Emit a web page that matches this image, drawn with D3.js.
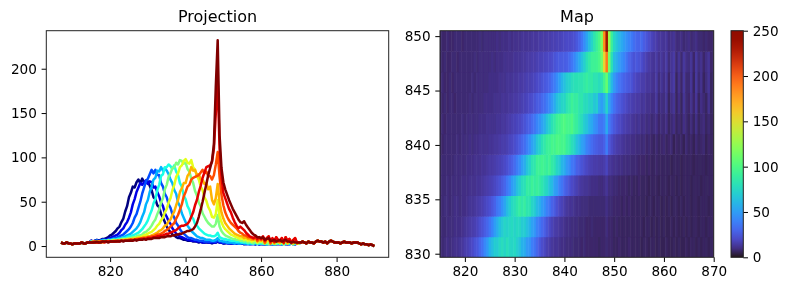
<!DOCTYPE html>
<html>
<head>
<meta charset="utf-8">
<script src="https://cdn.jsdelivr.net/npm/d3@7"></script>
<style>
  body { margin: 0; background: #fff; }
  svg { filter: blur(0.35px); }
  text { font-family: "DejaVu Sans", sans-serif; fill: #000; }
  .tick text { font-size: 13.6px; }
  .title { font-size: 16px; text-anchor: middle; }
</style>
</head>
<body>
<svg id="chart" width="789" height="291"></svg>
<script>
// row positions (one spectrum per row) and axis ticks
const rowLabels = [830, 832, 834, 836, 838, 840, 842, 844, 846, 848, 850];
const projXTicks = [820, 840, 860, 880];
const projYTicks = [0, 50, 100, 150, 200];
const mapXTicks = [820, 830, 840, 850, 860, 870];
const mapYTicks = [830, 835, 840, 845, 850];
const barTicks = [0, 50, 100, 150, 200, 250];

// wavelength 807 .. 814.5 and 870.5 .. 890, same for all the spectra
const tailLeft = [4,3,3,4,3,3,2,3,3,3,3,4,3,3,4,4];
const tailRight = [4,5,4,3,5,4,4,3,5,6,5,5,4,5,3,5,6,5,4,4,4,3,4,5,4,4,4,3,4,4,4,3,2,3,2,2,1,2,1,0];

// spectra, wavelength 815 .. 870 by 0.5, 10 values a line
const s0 = [6,5,6,7,6,7,8,8,9,10,
  12,13,15,17,20,22,27,31,39,45,
  55,60,67,66,72,75,71,76,72,71,
  73,68,63,55,53,46,44,36,32,27,
  22,18,16,13,12,10,9,9,8,7,
  7,6,6,6,5,5,5,4,5,4,
  4,4,4,4,3,4,4,5,4,4,
  3,3,4,3,3,3,4,3,3,3,
  3,2,3,3,2,3,3,2,3,2,
  2,3,2,2,3,2,3,2,2,3,
  2,3,3,2,3,2,3,3,2,3,
  3];
const s1 = [6,5,5,6,6,6,7,7,7,8,
  9,10,11,12,13,15,18,20,24,27,
  32,38,47,53,61,66,71,69,72,74,
  70,73,72,66,67,61,56,49,45,37,
  33,28,25,20,17,14,12,11,10,9,
  8,7,7,6,6,6,5,5,5,4,
  4,5,4,4,4,4,4,6,4,4,
  3,4,3,3,3,3,3,3,3,3,
  3,3,2,3,3,2,3,2,3,2,
  3,2,2,3,2,3,2,2,3,2,
  3,2,3,3,2,3,3,2,3,3,
  3];
const s2 = [5,5,6,6,5,6,7,7,6,7,
  7,8,9,9,10,11,12,13,15,17,
  19,22,26,32,36,43,50,59,66,73,
  76,81,86,82,86,80,80,71,67,59,
  55,47,43,36,32,26,23,19,16,14,
  12,10,9,9,8,7,7,6,6,6,
  5,5,5,5,5,5,5,7,5,5,
  4,4,4,3,4,3,4,3,3,3,
  3,3,3,2,3,3,2,3,3,2,
  3,2,3,2,3,3,2,3,2,3,
  3,2,3,3,2,3,3,3,2,3,
  3];
const s3 = [5,5,5,6,5,6,6,6,6,7,
  7,7,8,8,8,9,9,10,11,12,
  13,14,16,18,20,23,27,33,38,47,
  52,61,67,75,77,85,84,89,85,88,
  85,81,75,71,63,59,49,45,37,32,
  27,23,20,17,15,13,11,10,9,9,
  8,7,7,7,6,6,7,9,6,6,
  5,5,4,4,4,4,3,4,3,3,
  4,3,3,3,2,3,3,3,2,3,
  3,3,2,3,3,2,3,2,3,3,
  3,2,3,3,3,2,3,3,3,3,
  3];
const s4 = [5,5,5,5,5,5,6,6,6,6,
  6,7,7,7,8,8,8,9,9,10,
  11,11,12,13,14,15,17,19,22,25,
  29,35,40,48,53,63,69,79,81,89,
  89,92,90,87,91,84,80,71,67,57,
  53,45,41,33,31,25,23,20,18,16,
  14,13,12,12,11,11,12,15,10,9,
  8,8,7,7,6,6,6,5,5,5,
  4,4,4,3,4,3,3,4,3,3,
  3,3,3,2,3,3,3,2,3,3,
  3,3,2,3,3,3,3,2,3,3,
  3];
const s5 = [5,4,5,5,5,5,5,6,5,6,
  6,6,7,6,7,7,8,8,8,8,
  9,9,10,10,11,12,12,13,15,16,
  18,20,23,27,30,36,41,49,54,64,
  69,78,82,88,89,94,92,97,96,93,
  94,87,84,76,71,62,57,49,45,37,
  33,29,26,24,22,22,25,35,22,17,
  14,12,11,10,9,8,8,7,7,6,
  6,5,6,4,5,4,3,5,3,4,
  5,3,4,5,2,4,3,4,2,5,
  3,4,2,5,3,4,5,2,4,3,
  3];
const s6 = [4,5,4,5,5,5,5,5,5,6,
  5,6,6,6,6,6,7,7,7,8,
  8,8,8,9,9,10,10,11,12,13,
  14,15,16,18,20,23,25,29,32,38,
  42,49,54,63,69,78,82,89,91,96,
  98,94,93,97,89,86,79,75,67,63,
  55,51,44,40,33,32,36,52,34,27,
  22,19,17,15,13,12,11,10,9,8,
  9,7,8,6,7,5,6,7,4,6,
  5,7,3,5,7,3,5,3,7,5,
  3,6,3,7,3,5,6,3,5,3,
  3];
const s7 = [4,4,5,4,5,5,4,5,5,5,
  5,5,6,5,6,6,6,6,7,7,
  7,7,8,8,8,9,9,9,10,10,
  11,11,12,13,14,15,17,18,20,23,
  24,28,30,35,39,46,52,61,65,71,
  71,79,82,89,85,86,80,81,75,75,
  70,71,64,67,52,47,54,70,50,38,
  31,26,23,20,18,16,14,13,12,11,
  11,9,10,8,8,7,7,10,5,7,
  6,9,3,7,9,3,7,3,9,5,
  4,8,4,9,3,7,5,3,8,3,
  4];
const s8 = [4,5,4,4,5,4,5,5,5,5,
  5,5,5,6,5,6,6,6,6,6,
  7,7,7,7,8,8,8,9,9,9,
  10,10,11,11,12,13,13,14,15,17,
  18,20,22,24,26,31,35,41,47,56,
  61,67,69,75,77,78,79,80,83,86,
  82,84,79,79,75,80,92,106,78,58,
  46,38,33,29,26,24,22,20,17,15,
  14,12,12,10,10,9,8,11,6,9,
  7,10,4,9,11,3,8,4,10,5,
  5,9,3,10,5,8,3,6,9,3,
  4];
const s9 = [4,4,5,4,4,5,5,4,5,5,
  5,5,5,5,6,5,6,6,6,6,
  6,7,6,7,7,7,8,8,8,8,
  9,9,9,10,10,11,11,12,12,13,
  14,14,15,16,17,18,20,22,23,23,
  24,25,28,33,38,46,52,61,68,77,
  83,89,90,91,95,110,150,188,110,78,
  60,54,48,42,38,32,27,23,20,22,
  20,18,15,13,11,10,9,11,8,10,
  8,11,6,9,11,5,9,5,10,7,
  6,9,4,10,6,8,4,7,9,4,
  4];
const s10 = [4,4,4,5,4,4,5,5,5,4,
  5,5,5,5,5,5,6,5,6,6,
  6,6,6,7,6,7,7,7,8,7,
  8,8,8,9,9,9,9,10,10,10,
  11,11,11,12,12,13,13,14,14,15,
  16,17,17,18,19,22,26,33,41,50,
  60,70,80,88,96,115,180,232,125,88,
  72,64,58,52,47,42,38,34,30,27,
  26,28,24,21,18,15,13,12,10,10,
  9,10,7,8,9,6,6,7,5,6,
  7,5,6,7,5,5,4,5,4,4,
  4];
const spectra = [s0, s1, s2, s3, s4, s5, s6, s7, s8, s9, s10];

const mapWave = d3.range(815, 870.5, 0.5);
const fullWave = d3.range(807, 890.5, 0.5);

// classic jet for the line colours
const jet = t => {
    const c = v => Math.round(255 * Math.max(0, Math.min(1, 1.5 - Math.abs(4 * t - v))));
    return `rgb(${c(3)},${c(2)},${c(1)})`;
};

const svg = d3.select("#chart");
const top_ = 30.7, bottom_ = 257.3;

const styleAxis = (g) => {
    g.selectAll(".domain").remove();
    g.selectAll(".tick line").attr("stroke", "#000").attr("stroke-width", 1);
};

const drawFrame = (x0, x1) => {
    svg.append("rect")
        .attr("x", x0).attr("y", top_)
        .attr("width", x1 - x0).attr("height", bottom_ - top_)
        .attr("fill", "none")
        .attr("stroke", "#222")
        .attr("stroke-width", 1);
};

// left panel
const drawProjection = () => {
    const x = d3.scaleLinear().domain([803.1, 893.8]).range([46.3, 388.7]);
    const y = d3.scaleLinear().domain([-12.7, 242.9]).range([bottom_, top_]);
    const line = d3.line().x((d, i) => x(fullWave[i])).y(d => y(d));

    svg.append("g")
        .selectAll("path")
        .data(spectra)
        .enter()
        .append("path")
        .attr("d", d => line([...tailLeft, ...d, ...tailRight]))
        .attr("fill", "none")
        .attr("stroke", (d, i) => jet(i / 10))
        .attr("stroke-width", 2.5)
        .attr("stroke-linejoin", "round");

    svg.append("g")
        .attr("transform", `translate(0,${bottom_})`)
        .call(d3.axisBottom(x).tickValues(projXTicks).tickSize(4.7).tickPadding(4.7))
        .call(styleAxis);
    svg.append("g")
        .attr("transform", "translate(46.3,0)")
        .call(d3.axisLeft(y).tickValues(projYTicks).tickSize(4.7).tickPadding(4.7))
        .call(styleAxis);
    drawFrame(46.3, 388.7);

    svg.append("text").attr("class", "title").attr("x", 217.5).attr("y", 22).text("Projection");
};

// right panel
const drawMap = () => {
    const x = d3.scaleLinear().domain([815, 870]).range([440, 713.7]);
    const y = d3.scaleLinear().domain([829.67, 850.5]).range([bottom_, top_]);
    const row = d3.scaleBand().domain(rowLabels).range([bottom_, top_]);
    const color = d3.scaleSequential(d3.interpolateTurbo).domain([0, 250]);

    const defs = svg.append("defs");
    defs.append("clipPath").attr("id", "map-clip")
        .append("rect")
        .attr("x", 440).attr("y", top_)
        .attr("width", 273.7).attr("height", bottom_ - top_);
    defs.append("filter").attr("id", "soft")
        .attr("x", "-2%").attr("y", "-2%").attr("width", "104%").attr("height", "104%")
        .append("feGaussianBlur").attr("stdDeviation", "0.6 0.4");

    const gradient = defs.append("linearGradient").attr("id", "bar-fill")
        .attr("x1", 0).attr("y1", 1).attr("x2", 0).attr("y2", 0);
    gradient.selectAll("stop")
        .data(d3.range(0, 251, 10))
        .enter()
        .append("stop")
        .attr("offset", d => d / 250)
        .attr("stop-color", d => color(d));

    const cells = svg.append("g").attr("clip-path", "url(#map-clip)")
        .append("g").attr("filter", "url(#soft)");

    // the map reads a little lighter than the lines say, so lift the colour
    spectra.forEach((values, r) => {
        cells.append("g")
            .selectAll("rect")
            .data(values)
            .enter()
            .append("rect")
            .attr("x", (d, i) => x(mapWave[i] - 0.25))
            .attr("y", row(rowLabels[r]))
            .attr("width", x(815.5) - x(815) + 0.5)
            .attr("height", row.bandwidth() + 0.5)
            .attr("fill", d => color(d + 3));
    });

    svg.append("g")
        .attr("transform", `translate(0,${bottom_})`)
        .call(d3.axisBottom(x).tickValues(mapXTicks).tickSize(4.7).tickPadding(4.7))
        .call(styleAxis);
    svg.append("g")
        .attr("transform", "translate(440,0)")
        .call(d3.axisLeft(y).tickValues(mapYTicks).tickSize(4.7).tickPadding(4.7))
        .call(styleAxis);
    drawFrame(440, 713.7);

    svg.append("text").attr("class", "title").attr("x", 577).attr("y", 22).text("Map");

    // colour bar
    const bar = d3.scaleLinear().domain([0, 250]).range([bottom_, top_]);
    svg.append("g")
        .attr("transform", "translate(743.3,0)")
        .call(d3.axisRight(bar).tickValues(barTicks).tickSize(4.7).tickPadding(4.7))
        .call(styleAxis);
    svg.append("rect")
        .attr("x", 731).attr("y", top_)
        .attr("width", 12.3).attr("height", bottom_ - top_)
        .attr("fill", "url(#bar-fill)").attr("stroke", "#222").attr("stroke-width", 1);
};

drawProjection();
drawMap();
</script>
</body>
</html>
